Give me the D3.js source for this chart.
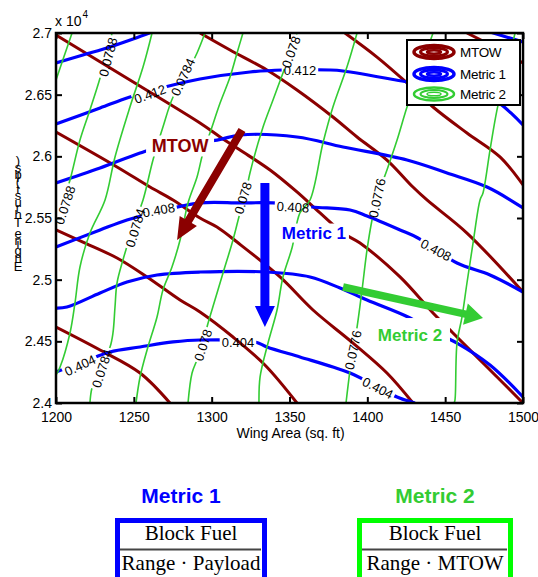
<!DOCTYPE html>
<html><head><meta charset="utf-8">
<script src="https://cdn.jsdelivr.net/npm/d3@7"></script>
<style>body{margin:0;background:#fff}svg{display:block}</style>
</head><body>
<svg id="c" width="538" height="577"></svg>
<script>
// ---------- data ----------
const xTicks = [1200,1250,1300,1350,1400,1450,1500];
const yTicks = [24000,24500,25000,25500,26000,26500,27000];
const yTickLabels = ["2.4","2.45","2.5","2.55","2.6","2.65","2.7"];
const xLabel = "Wing Area (sq. ft)";
const yLabel = "Engine Thrust (lbs)";
const legendNames = ["MTOW","Metric 1","Metric 2"];

// MTOW contour lines (wing area, thrust)
const mtowLines = [
 [[1200,26984],[1247.5,26619],[1292.5,26270],[1305.4,26157],[1318.2,26051],[1337.5,25889],[1354.8,25711],[1369.6,25541],[1384.4,25378],[1395.3,25297],[1421,25022],[1442.2,24730],[1455,24568],[1476.9,24292],[1500,24000]],
 [[1200,26197],[1239.2,25914],[1260.4,25751],[1275.2,25646],[1292.5,25500],[1303.4,25427],[1316.3,25305],[1343.9,25022],[1365.1,24754],[1390.8,24486],[1412.6,24243],[1429.3,24000]],
 [[1292.5,27000],[1311.8,26862],[1335.5,26700],[1354.8,26538],[1377.9,26319],[1393.4,26157],[1412.6,25970],[1429.3,25751],[1438.3,25646],[1464,25378],[1500,24900]],
 [[1200,25403],[1217.3,25305],[1239.2,25176],[1258.5,25022],[1279.7,24835],[1292.5,24738],[1313.7,24535],[1334.2,24308],[1354.8,24000]],
 [[1200,24616],[1228.3,24430],[1254,24243],[1273.2,24000]],
 [[1385.6,27000],[1406.2,26805],[1425.5,26595],[1442.2,26400],[1464,26189],[1485.2,25995],[1500,25768]],
 [[1464,27000],[1485.2,26862],[1500,26757]]
];

// Metric 1 contour lines
const metric1Levels = [0.414,0.414,0.412,0.410,0.408,0.406,0.404];
const metric1Lines = [
 [[1200,26757],[1217.3,26822],[1234.7,26887],[1249.5,26951],[1261.7,27008]],
 [[1478.8,27008],[1500,26927]],
 [[1200,26262],[1228.3,26392],[1247.5,26481],[1270,26562],[1292.5,26627],[1324.6,26684],[1345.8,26700],[1376,26700],[1384.4,26692],[1425.5,26603],[1453.1,26538],[1478.8,26481],[1500,26254]],
 [[1200,25784],[1228.3,25905],[1254,26027],[1266.8,26076],[1303.4,26132],[1318.2,26173],[1354.8,26157],[1384.4,26076],[1425.5,25970],[1451.2,25865],[1476.9,25751],[1500,25581]],
 [[1200,25265],[1228.3,25403],[1245.6,25484],[1262.3,25541],[1292.5,25622],[1318.2,25622],[1339.4,25622],[1364.5,25589],[1388.9,25565],[1399.8,25516],[1421,25403],[1432.5,25338],[1457.6,25135],[1478.8,25038],[1500,24900]],
 [[1200,24770],[1207,24778],[1228.3,24892],[1245.6,24981],[1264.9,25038],[1292.5,25062],[1335.5,25062],[1363.2,25022],[1382.5,24932],[1399.8,24835],[1426.1,24697],[1440.3,24592],[1457.6,24486],[1478.8,24308],[1500,24049]],
 [[1200,24251],[1210.3,24300],[1223.8,24365],[1234.7,24414],[1254,24454],[1275.2,24495],[1292.5,24511],[1327.8,24495],[1335.5,24454],[1356.7,24373],[1377.9,24292],[1388.9,24243],[1408.1,24122],[1419.1,24049],[1430.6,24000]]
];
const metric1Labels = [
 ["0.412",1260.4,26505,-20],["0.412",1356.7,26700,0],
 ["0.408",1266,25565,-10],["0.408",1352.2,25589,3],["0.408",1444.1,25241,28],
 ["0.404",1215.5,24305,-25],["0.404",1316.9,24495,0],["0.404",1406.8,24122,27]
];

// Metric 2 contour lines
const metric2Levels = [0.0790,0.0788,0.0786,0.0784,0.0782,0.0780,0.0778,0.0776,0.0774];
const metric2Lines = [
 [[1200,26619],[1210.3,27000]],
 [[1236,27000],[1228.3,26635],[1221.8,26376],[1215.4,26132],[1209,25808],[1203.9,25605],[1200,25443]],
 [[1261.7,27000],[1255.9,26724],[1247.5,26400],[1237.9,25995],[1231.5,25646],[1221.8,25378],[1215.4,25103],[1212.2,24811],[1209,24568],[1202.6,24292],[1200,24227]],
 [[1295.7,27000],[1290.6,26838],[1282.9,26643],[1275.2,26481],[1268.7,26238],[1262.3,25970],[1255.9,25646],[1249.5,25427],[1243,25159],[1239.2,24973],[1237.9,24778],[1236.6,24568],[1234.7,24454],[1228.3,24292],[1223.1,24122],[1221.8,24000]],
 [[1320.1,27000],[1316.3,26838],[1311.8,26643],[1305.4,26432],[1298.9,26189],[1294.4,26027],[1290.6,25832],[1284.8,25622],[1279.7,25322],[1274.5,25103],[1268.7,24916],[1264.9,24697],[1258.5,24430],[1254,24211],[1251.4,24000]],
 [[1354.8,27000],[1350.3,26838],[1345.8,26676],[1339.4,26457],[1333,26238],[1324.6,25865],[1321.4,25670],[1318.2,25541],[1313.7,25322],[1307.3,25054],[1302.1,24835],[1297,24616],[1294.4,24470],[1290.6,24349],[1287.4,24243],[1284.8,24000]],
 [[1393.4,27000],[1386.9,26724],[1377.9,26400],[1371.5,26108],[1363.2,25646],[1356.7,25541],[1351.6,25257],[1345.8,25022],[1342,24754],[1336.2,24486],[1331.1,24211],[1330.4,24000]],
 [[1442.2,27000],[1433.8,26700],[1425.5,26400],[1419.1,26132],[1412.6,25889],[1406.2,25662],[1403,25484],[1399.8,25241],[1396.6,24916],[1393.4,24616],[1390.8,24430],[1388.9,24268],[1386.3,24000]],
 [[1494.9,27000],[1489.7,26724],[1483.3,26376],[1478.8,26051],[1474.3,25703],[1472.4,25646],[1467.9,25297],[1464,24973],[1460.8,24697],[1457.6,24486],[1456.3,24024],[1455.7,24000]]
];
const metric2Labels = [
 ["0.0788",1233.4,26805,-75],["0.0788",1205.8,25605,-72],
 ["0.0784",1281.6,26643,-65],["0.0784",1251,25420,-73],["0.0784",1229.5,24280,-72],
 ["0.078",1351,26846,-70],["0.078",1320.1,25662,-73],["0.078",1294.4,24470,-72],
 ["0.0776",1406.2,25662,-78],["0.0776",1390.8,24430,-78]
];

// annotation arrows (from, to) and their labels
const mtowArrow = [[1319.5,26213],[1277.8,25322]];
const metric1Arrow = [[1334.2,25784],[1334.2,24616]];
const metric2Arrow = [[1384.4,24941],[1474.3,24689]];
const annoLabels = [["MTOW",1279.7,26084],["Metric 1",1365.7,25378],["Metric 2",1427.4,24551]];

// formulas below the chart
const formulaTitles = ["Metric 1","Metric 2"];
const formulaNum = ["Block Fuel","Block Fuel"];
const formulaDen = ["Range \u00B7 Payload","Range \u00B7 MTOW"];

// ---------- drawing ----------
const RED="#8b0000", BLUE="#0000ff", GREEN="#33cc33", BOXGREEN="#00ff00";
const SANS="'Liberation Sans', Arial, Helvetica, sans-serif";
const SERIF="'Liberation Serif', 'Times New Roman', serif";
const L=56, R=523, T=33, B=403;
const x = d3.scaleLinear().domain([1200,1500]).range([L,R]);
const y = d3.scaleLinear().domain([24000,27000]).range([B,T]);

const svg = d3.select("#c");
svg.append("rect").attr("width",538).attr("height",577).attr("fill","#fff");
const defs = svg.append("defs");
defs.append("clipPath").attr("id","clip").append("rect")
  .attr("x",L).attr("y",T).attr("width",R-L).attr("height",B-T);
function makeMask(id){
  const m = defs.append("mask").attr("id",id).attr("maskUnits","userSpaceOnUse")
    .attr("x",0).attr("y",0).attr("width",538).attr("height",577);
  m.append("rect").attr("x",0).attr("y",0).attr("width",538).attr("height",577).attr("fill","#fff");
  return m;
}
const mask1 = makeMask("m1"), mask2 = makeMask("m2");

const line = d3.line().x(d=>x(d[0])).y(d=>y(d[1])).curve(d3.curveCatmullRom.alpha(0.5));
const plot = svg.append("g").attr("clip-path","url(#clip)");

plot.append("g").selectAll("path").data(mtowLines).join("path")
  .attr("d",line).attr("fill","none").attr("stroke",RED).attr("stroke-width",3).attr("stroke-linejoin","round");
plot.append("g").attr("mask","url(#m1)").selectAll("path").data(metric1Lines).join("path")
  .attr("d",line).attr("fill","none").attr("stroke",BLUE).attr("stroke-width",3.2).attr("stroke-linejoin","round");
plot.append("g").attr("mask","url(#m2)").selectAll("path").data(metric2Lines).join("path")
  .attr("d",line).attr("fill","none").attr("stroke",GREEN).attr("stroke-width",1.6).attr("stroke-linejoin","round");

const labG = plot.append("g").attr("font-family",SANS).attr("font-size",13).attr("fill","#000");
function drawLabels(data, mask){
  data.forEach(([t,dx,dy,a])=>{
    const tr = `translate(${x(dx)},${y(dy)}) rotate(${a})`;
    const el = labG.append("text").attr("transform",tr).attr("text-anchor","middle")
      .attr("dy","0.36em").text(t);
    const w = el.node().getComputedTextLength();
    mask.append("rect").attr("transform",tr).attr("x",-w/2-2).attr("y",-6)
      .attr("width",w+4).attr("height",12).attr("fill","#000");
  });
}
drawLabels(metric1Labels, mask1);
drawLabels(metric2Labels, mask2);

// annotation labels with white background
const annoColors=[RED,BLUE,GREEN];
const annoBg=[[68,21],[70,19],[80,34]];
annoLabels.forEach(([t,dx,dy],i)=>{
  const cx=x(dx), cy=y(dy);
  plot.append("rect").attr("x",cx-annoBg[i][0]/2).attr("y",cy-annoBg[i][1]/2)
    .attr("width",annoBg[i][0]).attr("height",annoBg[i][1]).attr("fill","#fff");
  plot.append("text").attr("x",cx).attr("y",cy).attr("dy","0.36em").attr("text-anchor","middle")
    .attr("font-family",SANS).attr("font-weight","bold").attr("font-size",i==0?18:17)
    .attr("fill",annoColors[i]).text(t);
});

// arrows
function arrow(a, color, w, hl, hw){
  const x0=x(a[0][0]), y0=y(a[0][1]), x1=x(a[1][0]), y1=y(a[1][1]);
  const len=Math.hypot(x1-x0,y1-y0), ux=(x1-x0)/len, uy=(y1-y0)/len, nx=-uy, ny=ux;
  const bx=x1-ux*hl, by=y1-uy*hl;
  const pts=[[x0+nx*w,y0+ny*w],[bx+nx*w,by+ny*w],[bx+nx*hw,by+ny*hw],[x1,y1],
             [bx-nx*hw,by-ny*hw],[bx-nx*w,by-ny*w],[x0-nx*w,y0-ny*w]];
  plot.append("polygon").attr("points",pts.map(p=>p.join(",")).join(" ")).attr("fill",color);
}
arrow(mtowArrow, RED, 4, 22, 10);
arrow(metric1Arrow, BLUE, 4.5, 21, 10);
arrow(metric2Arrow, GREEN, 3.8, 18, 11);

// axes
const axG = svg.append("g").attr("font-family",SANS);
axG.append("g").attr("transform",`translate(0,${B})`)
  .call(d3.axisBottom(x).tickValues(xTicks).tickSize(-6).tickPadding(9).tickFormat(d3.format("d")));
axG.append("g").attr("transform",`translate(${L},0)`)
  .call(d3.axisLeft(y).tickValues(yTicks).tickSize(-6).tickPadding(4).tickFormat((d,i)=>yTickLabels[i]));
axG.append("g").attr("transform",`translate(0,${T})`)
  .call(d3.axisTop(x).tickValues(xTicks).tickSize(-6).tickFormat(""));
axG.append("g").attr("transform",`translate(${R},0)`)
  .call(d3.axisRight(y).tickValues(yTicks).tickSize(-6).tickFormat(""));
axG.selectAll(".domain").remove();
axG.selectAll(".tick line").attr("stroke","#000").attr("stroke-width",2);
axG.selectAll(".tick text").attr("font-size",14).attr("fill","#000").attr("font-family",SANS);
svg.append("rect").attr("x",L).attr("y",T).attr("width",R-L).attr("height",B-T)
  .attr("fill","none").attr("stroke","#000").attr("stroke-width",2.5);

// exponent
const ex = svg.append("text").attr("x",55).attr("y",26).attr("font-family",SANS).attr("font-size",14).text("x 10");
ex.append("tspan").attr("font-size",10).attr("dy",-8).attr("dx",1).text("4");

// x label
svg.append("text").attr("x",(L+R)/2+1).attr("y",438).attr("text-anchor","middle")
  .attr("font-family",SANS).attr("font-size",14).text(xLabel);

// y label: glyphs stacked upright (single text element with per-glyph positions)
(function(){
  const chars = yLabel.split("");
  const tmp = svg.append("text").attr("font-family",SANS).attr("font-size",13).attr("x",-500).attr("y",-500);
  const ws = chars.map(ch=>{ tmp.text(ch===" "?"\u00A0":ch); return tmp.node().getComputedTextLength(); });
  tmp.remove();
  let yy = 271; const ys=[];
  chars.forEach((ch,i)=>{ ys.push(yy.toFixed(1)); yy -= ws[i]; });
  svg.append("text").attr("font-family",SANS).attr("font-size",13).attr("text-anchor","middle")
    .attr("x",chars.map(()=>18).join(" ")).attr("y",ys.join(" "))
    .text(chars.map(c=>c===" "?"\u00A0":c).join(""));
})();

// legend
const lg = svg.append("g");
lg.append("rect").attr("x",407).attr("y",40).attr("width",113).attr("height",65)
  .attr("fill","#fff").attr("stroke","#000").attr("stroke-width",2);
const legColors=[RED,BLUE,GREEN], legW=[3,3,2];
const legY=[52,74,94];
legendNames.forEach((n,i)=>{
  const cy=legY[i], cx=434;
  lg.append("ellipse").attr("cx",cx).attr("cy",cy).attr("rx",20).attr("ry",6.5)
    .attr("fill","none").attr("stroke",legColors[i]).attr("stroke-width",legW[i]+0.5);
  lg.append("ellipse").attr("cx",cx).attr("cy",cy).attr("rx",13.5).attr("ry",4)
    .attr("fill","none").attr("stroke",legColors[i]).attr("stroke-width",legW[i]);
  lg.append("ellipse").attr("cx",cx).attr("cy",cy).attr("rx",7).attr("ry",1.8)
    .attr("fill","none").attr("stroke",legColors[i]).attr("stroke-width",legW[i]-0.5);
  lg.append("text").attr("x",460).attr("y",cy+5).attr("font-family",SANS).attr("font-size",13.5)
    .attr("letter-spacing",-0.3).text(n);
});

// formulas
const fx=[181,435], fColors=[BLUE,GREEN], boxColors=[BLUE,BOXGREEN];
const boxX=[[115,267],[357,513]];
formulaTitles.forEach((t,i)=>{
  svg.append("text").attr("x",fx[i]).attr("y",503).attr("text-anchor","middle")
    .attr("font-family",SANS).attr("font-weight","bold").attr("font-size",21).attr("fill",fColors[i]).text(t);
  const bx0=boxX[i][0], bx1=boxX[i][1];
  svg.append("rect").attr("x",bx0+2.5).attr("y",520.5).attr("width",bx1-bx0-5).attr("height",80)
    .attr("fill","#fff").attr("stroke",boxColors[i]).attr("stroke-width",5);
  const mid=(bx0+bx1)/2;
  svg.append("text").attr("x",mid).attr("y",540).attr("text-anchor","middle")
    .attr("font-family",SERIF).attr("font-size",21).text(formulaNum[i]);
  svg.append("line").attr("x1",bx0+5).attr("x2",bx1-6).attr("y1",549.5).attr("y2",549.5)
    .attr("stroke","#444").attr("stroke-width",2);
  svg.append("text").attr("x",mid).attr("y",570).attr("text-anchor","middle")
    .attr("font-family",SERIF).attr("font-size",21).text(formulaDen[i]);
});
</script>
</body></html>
